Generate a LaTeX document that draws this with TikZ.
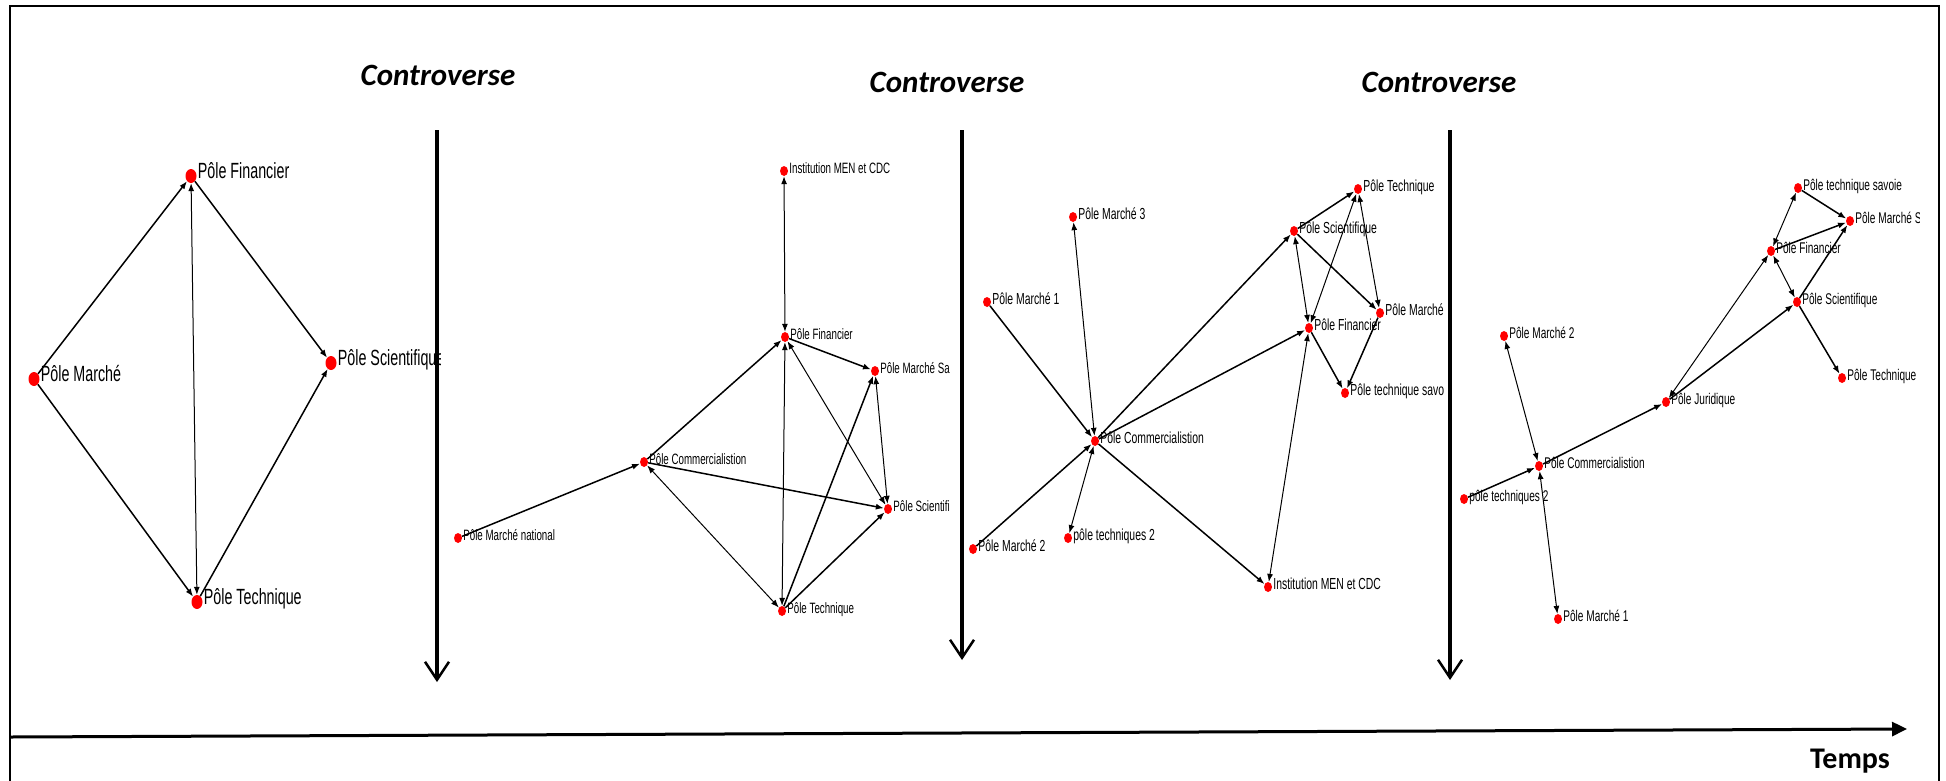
\documentclass[tikz,border=0pt]{standalone}
\usepackage{fontspec}
\usepackage{tikz}
\usetikzlibrary{arrows.meta,shapes.geometric}
\newfontfamily\netfont[FakeStretch=0.65]{Liberation Sans}
\newfontfamily\calfont{Carlito}
\tikzstyle{pole}=[ellipse, fill=red, draw=none, minimum width=8pt, minimum height=10pt, inner sep=0pt]
\tikzstyle{bigpole}=[pole, minimum width=11pt, minimum height=14pt]
\tikzstyle{lien}=[line width=1.5pt, -{Latex[length=8pt,width=6pt]}]
\tikzstyle{lienbi}=[line width=1pt, {Latex[length=8pt,width=6pt]}-{Latex[length=8pt,width=6pt]}]
\tikzstyle{controv}=[line width=3.5pt, -{Straight Barb[length=18pt,width=24pt,line width=2.5pt]}]
\tikzstyle{temps}=[line width=3pt, -{Triangle[length=15pt,width=14pt]}]
\tikzstyle{titre}=[font=\calfont\bfseries\itshape\fontsize{31}{31}\selectfont, anchor=base]
% un pole : nom, position, style du point, texte
\newcommand{\pole}[4]{
 \node[#3] (#1) at (#2) {};
 \node[lbl, anchor=mid west, inner sep=1pt] (#1l) at (#1.east) {#4};
}
\begin{document}
\begin{tikzpicture}[x=1pt, y=-1pt]
 \useasboundingbox (0,0) rectangle (1946,780);
 \draw[line width=2.5pt] (10,800) -- (10,6) -- (1939,6) -- (1939,800);
%
 \node[titre] (ctr1) at (438,85) {Controverse};
 \node[titre] (ctr2) at (947,92) {Controverse};
 \node[titre] (ctr3) at (1439,92) {Controverse};
 \coordinate (v1a) at (437,130); \coordinate (v1b) at (437,682);
 \coordinate (v2a) at (962,130); \coordinate (v2b) at (962,660);
 \coordinate (v3a) at (1450,130); \coordinate (v3b) at (1450,680);
 \draw[controv] (v1a) -- (v1b);
 \draw[controv] (v2a) -- (v2b);
 \draw[controv] (v3a) -- (v3b);
%
 \coordinate (t0) at (10,737); \coordinate (t1) at (1907,729);
 \draw[temps] (t0) -- (t1);
 \node[font=\calfont\bfseries\fontsize{30}{30}\selectfont, anchor=base] (tps) at (1850,768) {Temps};
%
 \begin{scope}[lbl/.style={font=\netfont\fontsize{22}{22}\selectfont}]
 \clip (10,6) rectangle (440,780);
 \pole{aF}{191,176}{bigpole}{Pôle Financier}
 \pole{aM}{34,379}{bigpole}{Pôle Marché}
 \pole{aS}{331,363}{bigpole}{Pôle Scientifique}
 \pole{aT}{197,602}{bigpole}{Pôle Technique}
 \draw[lien] (aM) -- (aF);
 \draw[lien] (aM) -- (aT);
 \draw[lien] (aF) -- (aS);
 \draw[lien] (aT) -- (aS);
 \draw[lienbi] (aF) -- (aT);
 \end{scope}
%
 \begin{scope}[lbl/.style={font=\netfont\fontsize{15}{15}\selectfont}]
 \clip (442,6) rectangle (951,780);
 \pole{bI}{784,171}{pole}{Institution MEN et CDC}
 \pole{bF}{785,337}{pole}{Pôle Financier}
 \pole{bMS}{875,371}{pole}{Pôle Marché Sa}
 \pole{bC}{644,462}{pole}{Pôle Commercialistion}
 \pole{bS}{888,509}{pole}{Pôle Scientifi}
 \pole{bMN}{458,538}{pole}{Pôle Marché national}
 \pole{bT}{782,611}{pole}{Pôle Technique}
 \draw[lienbi] (bI) -- (bF);
 \draw[lien] (bMN) -- (bC);
 \draw[lien] (bC) -- (bF);
 \draw[lienbi] (bC) -- (bT);
 \draw[lien] (bC) -- (bS);
 \draw[lien] (bF) -- (bMS);
 \draw[lienbi] (bF) -- (bS);
 \draw[lienbi] (bF) -- (bT);
 \draw[lien] (bT) -- (bMS);
 \draw[lien] (bT) -- (bS);
 \draw[lienbi] (bMS) -- (bS);
 \end{scope}
%
 \begin{scope}[lbl/.style={font=\netfont\fontsize{16}{16}\selectfont}]
 \clip (965,6) rectangle (1447,780);
 \pole{cT}{1358,189}{pole}{Pôle Technique}
 \pole{cM3}{1073,217}{pole}{Pôle Marché 3}
 \pole{cS}{1294,231}{pole}{Pôle Scientifique}
 \pole{cM1}{987,302}{pole}{Pôle Marché 1}
 \pole{cM}{1380,313}{pole}{Pôle Marché}
 \pole{cF}{1309,328}{pole}{Pôle Financier}
 \pole{cTS}{1345,393}{pole}{Pôle technique savo}
 \pole{cC}{1095,441}{pole}{Pôle Commercialistion}
 \pole{cT2}{1068,538}{pole}{pôle techniques 2}
 \pole{cM2}{973,549}{pole}{Pôle Marché 2}
 \pole{cI}{1268,587}{pole}{Institution MEN et CDC}
 \draw[lienbi] (cM3) -- (cC);
 \draw[lien] (cM1) -- (cC);
 \draw[lien] (cM2) -- (cC);
 \draw[lienbi] (cC) -- (cT2);
 \draw[lien] (cC) -- (cS);
 \draw[lien] (cC) -- (cF);
 \draw[lien] (cC) -- (cI);
 \draw[lienbi] (cI) -- (cF);
 \draw[lien] (cS) -- (cT);
 \draw[lienbi] (cS) -- (cF);
 \draw[lien] (cS) -- (cM);
 \draw[lienbi] (cT) -- (cM);
 \draw[lienbi] (cT) -- (cF);
 \draw[lien] (cF) -- (cTS);
 \draw[lien] (cM) -- (cTS);
 \end{scope}
%
 \begin{scope}[lbl/.style={font=\netfont\fontsize{15.5}{15.5}\selectfont}]
 \clip (1453,6) rectangle (1919,780);
 \pole{dTS}{1798,188}{pole}{Pôle technique savoie}
 \pole{dMS}{1850,221}{pole}{Pôle Marché S}
 \pole{dF}{1771,251}{pole}{Pôle Financier}
 \pole{dS}{1797,302}{pole}{Pôle Scientifique}
 \pole{dM2}{1504,336}{pole}{Pôle Marché 2}
 \pole{dT}{1842,378}{pole}{Pôle Technique}
 \pole{dJ}{1666,402}{pole}{Pôle Juridique}
 \pole{dC}{1539,466}{pole}{Pôle Commercialistion}
 \pole{dT2}{1464,499}{pole}{pôle techniques 2}
 \pole{dM1}{1558,619}{pole}{Pôle Marché 1}
 \draw[lienbi] (dM2) -- (dC);
 \draw[lien] (dT2) -- (dC);
 \draw[lienbi] (dC) -- (dM1);
 \draw[lien] (dC) -- (dJ);
 \draw[lienbi] (dJ) -- (dF);
 \draw[lien] (dJ) -- (dS);
 \draw[lienbi] (dF) -- (dTS);
 \draw[lien] (dTS) -- (dMS);
 \draw[lien] (dF) -- (dMS);
 \draw[lienbi] (dF) -- (dS);
 \draw[lien] (dS) -- (dMS);
 \draw[lien] (dS) -- (dT);
 \end{scope}
\end{tikzpicture}
\end{document}
